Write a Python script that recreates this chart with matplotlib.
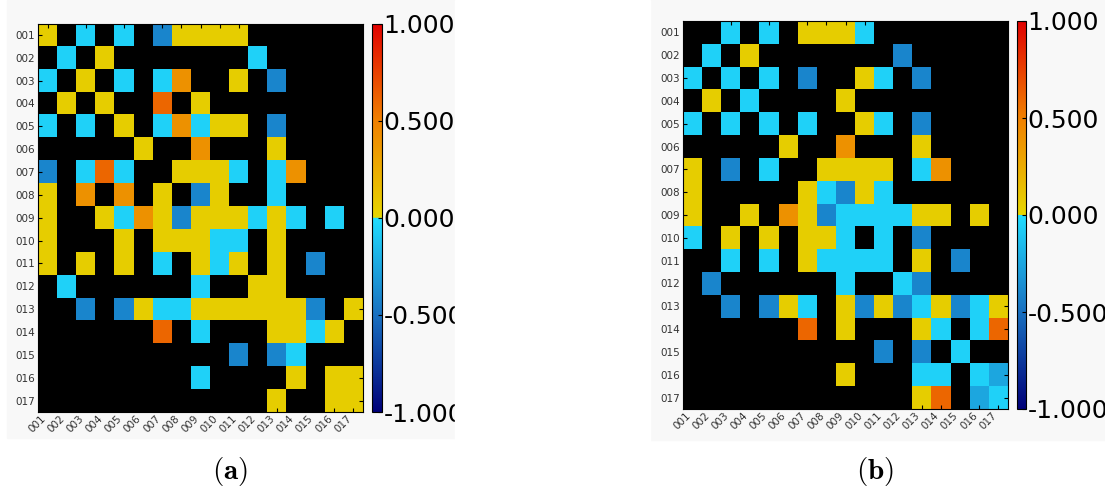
import numpy as np
import matplotlib
matplotlib.use("Agg")
import matplotlib.pyplot as plt
from matplotlib.colors import LinearSegmentedColormap
from matplotlib.patches import Rectangle

plt.rcParams['mathtext.fontset'] = 'cm'

# cell values (0 = empty / black cell)
labels = ['%03d' % i for i in range(1, 18)]
cbar_ticks = [-1.0, -0.5, 0.0, 0.5, 1.0]

Y, C, B, O, R, b = 0.05, -0.05, -0.4, 0.4, 0.6, -0.25

corr_a = [
    [Y, 0, C, 0, C, 0, B, Y, Y, Y, Y, 0, 0, 0, 0, 0, 0],
    [0, C, 0, Y, 0, 0, 0, 0, 0, 0, 0, C, 0, 0, 0, 0, 0],
    [C, 0, Y, 0, C, 0, C, O, 0, 0, Y, 0, B, 0, 0, 0, 0],
    [0, Y, 0, Y, 0, 0, R, 0, Y, 0, 0, 0, 0, 0, 0, 0, 0],
    [C, 0, C, 0, Y, 0, C, O, C, Y, Y, 0, B, 0, 0, 0, 0],
    [0, 0, 0, 0, 0, Y, 0, 0, O, 0, 0, 0, Y, 0, 0, 0, 0],
    [B, 0, C, R, C, 0, 0, Y, Y, Y, C, 0, C, O, 0, 0, 0],
    [Y, 0, O, 0, O, 0, Y, 0, B, Y, 0, 0, C, 0, 0, 0, 0],
    [Y, 0, 0, Y, C, O, Y, B, Y, Y, Y, C, Y, C, 0, C, 0],
    [Y, 0, 0, 0, Y, 0, Y, Y, Y, C, C, 0, Y, 0, 0, 0, 0],
    [Y, 0, Y, 0, Y, 0, C, 0, Y, C, Y, 0, Y, 0, B, 0, 0],
    [0, C, 0, 0, 0, 0, 0, 0, C, 0, 0, Y, Y, 0, 0, 0, 0],
    [0, 0, B, 0, B, Y, C, C, Y, Y, Y, Y, Y, Y, B, 0, Y],
    [0, 0, 0, 0, 0, 0, R, 0, C, 0, 0, 0, Y, Y, C, Y, 0],
    [0, 0, 0, 0, 0, 0, 0, 0, 0, 0, B, 0, B, C, 0, 0, 0],
    [0, 0, 0, 0, 0, 0, 0, 0, C, 0, 0, 0, 0, Y, 0, Y, Y],
    [0, 0, 0, 0, 0, 0, 0, 0, 0, 0, 0, 0, Y, 0, 0, Y, Y],
]

corr_b = [
    [0, 0, C, 0, C, 0, Y, Y, Y, C, 0, 0, 0, 0, 0, 0, 0],
    [0, C, 0, Y, 0, 0, 0, 0, 0, 0, 0, B, 0, 0, 0, 0, 0],
    [C, 0, C, 0, C, 0, B, 0, 0, Y, C, 0, B, 0, 0, 0, 0],
    [0, Y, 0, C, 0, 0, 0, 0, Y, 0, 0, 0, 0, 0, 0, 0, 0],
    [C, 0, C, 0, C, 0, C, 0, 0, Y, C, 0, B, 0, 0, 0, 0],
    [0, 0, 0, 0, 0, Y, 0, 0, O, 0, 0, 0, Y, 0, 0, 0, 0],
    [Y, 0, B, 0, C, 0, 0, Y, Y, Y, Y, 0, C, O, 0, 0, 0],
    [Y, 0, 0, 0, 0, 0, Y, C, B, Y, C, 0, 0, 0, 0, 0, 0],
    [Y, 0, 0, Y, 0, O, Y, B, C, C, C, C, Y, Y, 0, Y, 0],
    [C, 0, Y, 0, Y, 0, Y, Y, C, 0, C, 0, B, 0, 0, 0, 0],
    [0, 0, C, 0, C, 0, Y, C, C, C, C, 0, Y, 0, B, 0, 0],
    [0, B, 0, 0, 0, 0, 0, 0, C, 0, 0, C, B, 0, 0, 0, 0],
    [0, 0, B, 0, B, Y, C, 0, Y, B, Y, B, C, Y, B, C, Y],
    [0, 0, 0, 0, 0, 0, R, 0, Y, 0, 0, 0, Y, C, 0, C, R],
    [0, 0, 0, 0, 0, 0, 0, 0, 0, 0, B, 0, B, 0, C, 0, 0],
    [0, 0, 0, 0, 0, 0, 0, 0, Y, 0, 0, 0, C, C, 0, C, b],
    [0, 0, 0, 0, 0, 0, 0, 0, 0, 0, 0, 0, Y, R, 0, b, C],
]

# split colormap: blues below zero, yellow->red above
cmap = LinearSegmentedColormap.from_list('split', [
    (0.0, '#000078'), (0.25, '#1870c0'), (0.499, '#20dcff'),
    (0.501, '#e6d600'), (0.75, '#f08000'), (1.0, '#e00000')], N=1024)
cmap.set_bad('black')

fig = plt.figure(figsize=(11.05, 4.91), dpi=100)
W, H = 1105.0, 491.0

# faint panel backgrounds like the pasted screenshots
fig.patches.append(Rectangle((7 / W, 1 - 438 / H), 448 / W, 438 / H,
                             transform=fig.transFigure, color='#f8f8f8', zorder=-5))
fig.patches.append(Rectangle((650 / W, 1 - 440 / H), 455 / W, 440 / H,
                             transform=fig.transFigure, color='#f8f8f8', zorder=-5))


def panel(data, hm_box, cb_box, cap, cap_x):
    ax = fig.add_axes([hm_box[0] / W, 1 - hm_box[3] / H,
                       (hm_box[2] - hm_box[0]) / W, (hm_box[3] - hm_box[1]) / H])
    m = np.ma.masked_equal(np.array(data), 0)
    im = ax.imshow(m, cmap=cmap, vmin=-1, vmax=1, aspect='auto', interpolation='nearest')
    ax.set_facecolor('black')
    ax.set_xticks(range(17))
    ax.set_yticks(range(17))
    ax.set_xticklabels(labels, rotation=45, ha='right', fontsize=7.5, color='#333333')
    ax.set_yticklabels(labels, fontsize=7.5, color='#333333')
    ax.tick_params(direction='in', length=3, top=True, right=True, pad=2)
    ax.tick_params(axis='x', pad=1)

    cax = fig.add_axes([cb_box[0] / W, 1 - cb_box[3] / H,
                        (cb_box[2] - cb_box[0]) / W, (cb_box[3] - cb_box[1]) / H])
    cb = fig.colorbar(im, cax=cax, ticks=cbar_ticks, format='%.3f')
    cb.ax.tick_params(labelsize=18, length=3, direction='in', pad=1)
    cb.outline.set_linewidth(0.8)

    fig.text(cap_x / W, 1 - 471 / H, cap, ha='center', va='center', fontsize=21)


panel(corr_a, (38, 23.5, 363, 412), (372, 23.5, 382, 412), r'$\mathbf{(a)}$', 230)
panel(corr_b, (683, 21, 1008, 409), (1017, 21, 1026, 409), r'$\mathbf{(b)}$', 875)

# the left panel image is cut off on its right side
fig.patches.append(Rectangle((455 / W, 0.05), 195 / W, 0.95,
                             transform=fig.transFigure, color='white', zorder=10))

fig.savefig('out.png', dpi=100)
